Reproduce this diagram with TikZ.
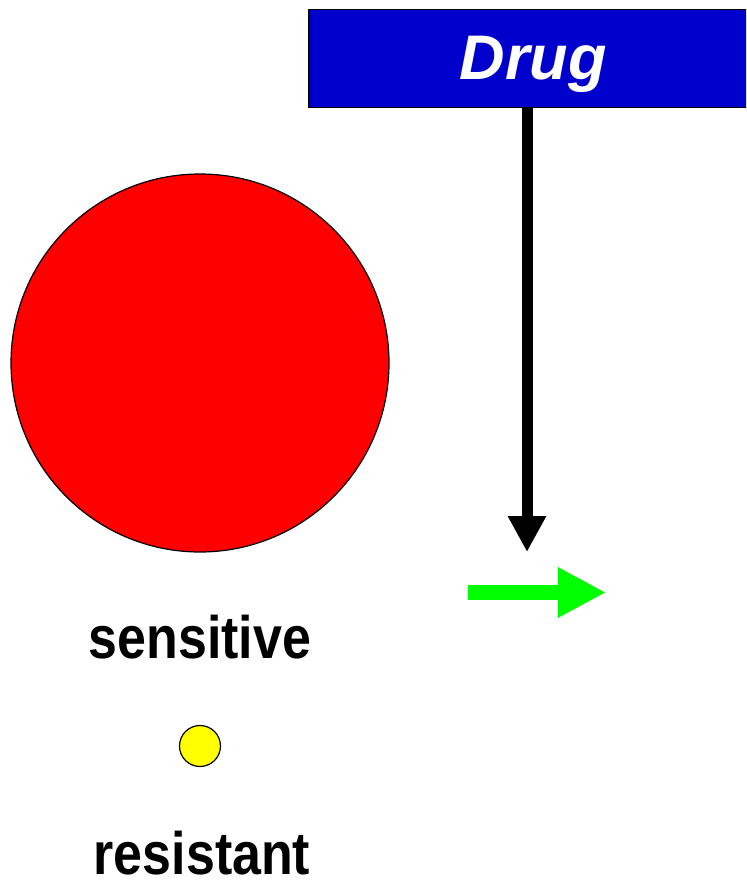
\documentclass[tikz,border=0pt]{standalone}
\usepackage{fontspec}
\setmainfont{Liberation Sans}
\usetikzlibrary{arrows.meta}
\definecolor{drugblue}{RGB}{0,0,204}
\definecolor{cellred}{RGB}{255,0,0}
\definecolor{cellyellow}{RGB}{255,255,0}
\definecolor{arrowgreen}{RGB}{0,255,0}
\newcommand{\tallword}[1]{\scalebox{0.98}[1.13]{#1}}
\begin{document}
\begin{tikzpicture}[x=1pt,y=-1pt,
  label text/.style={font=\fontsize{53}{60}\selectfont\bfseries, inner sep=0pt},
  cell/.style={circle, draw=black, line width=1.2pt, inner sep=0pt}]
\useasboundingbox (0,0) rectangle (746,882);
\begin{scope}
\clip (0,0) rectangle (746,882);
\node[draw=black, line width=1.5pt, fill=drugblue, minimum width=460pt, minimum height=98pt, anchor=north west, inner sep=0pt] (drug) at (308,9) {};
\end{scope}
\node[text=white, font=\fontsize{63}{70}\selectfont\bfseries\itshape, inner sep=0pt, anchor=base] (drugtext) at (533,80) {Drug};
\coordinate (tip) at (527,552);
\draw[line width=11pt, -{Triangle[width=36pt,length=36pt]}] (527,107) -- (tip);
\coordinate (gstart) at (468,592.5);
\coordinate (gend) at (606,592.5);
\draw[arrowgreen, line width=15pt, -{Triangle[width=47pt,length=48pt]}] (gstart) -- (gend);
\node[cell, fill=cellred, minimum size=378pt] (sens) at (200,363) {};
\node[label text, anchor=base] (senslabel) at (200,658) {\tallword{sensitive}};
\node[label text, anchor=base] (reslabel) at (202,874) {\tallword{resistant}};
\node[cell, fill=cellyellow, minimum size=41pt] (res) at (200,746) {};
\end{tikzpicture}
\end{document}
